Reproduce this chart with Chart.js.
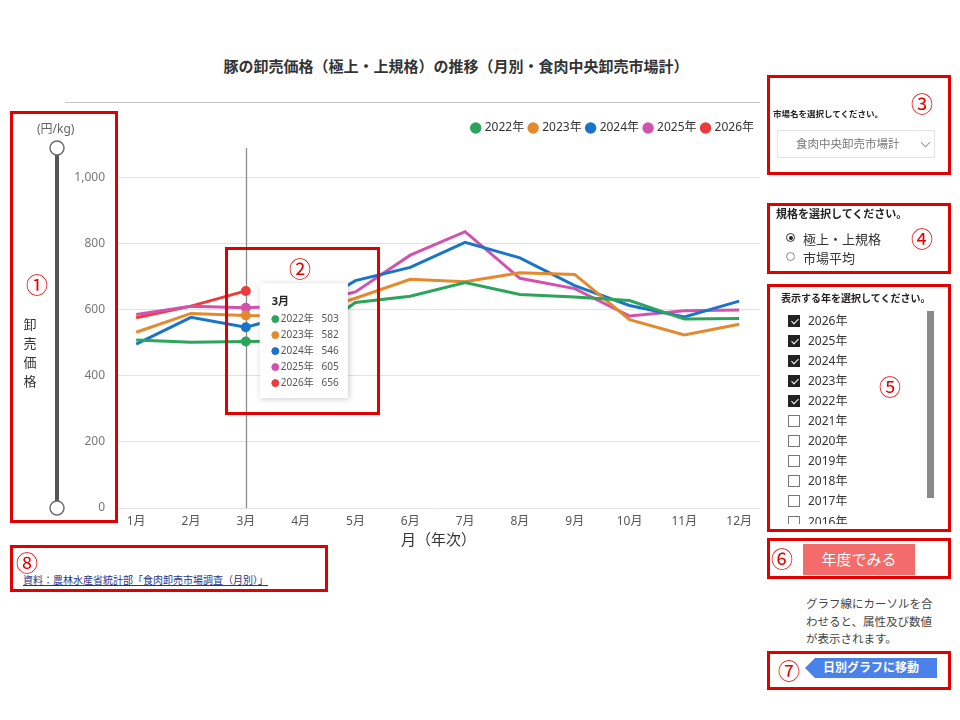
<!DOCTYPE html>
<html lang="ja">
<head>
<meta charset="utf-8">
<script src="https://cdn.jsdelivr.net/npm/chart.js@4.4.1/dist/chart.umd.min.js"></script>
<style>
  body { margin: 0; width: 960px; height: 720px; position: relative; overflow: hidden; background: #fff;
         font-family: 'Noto Sans', 'Noto Sans CJK JP', sans-serif; color: #333; }
  .abs { position: absolute; }
  #title { left: 0; width: 912px; top: 55px; text-align: center; font-size: 15px; font-weight: bold; color: #333; }
  #sep { left: 65px; top: 102px; width: 695px; height: 1px; background: #c8c8c8; }
  #chartBox { left: 0; top: 100px; width: 775px; height: 456px; }
  #unit { left: 37px; top: 119px; font-size: 12px; color: #666; }
  #ytitle { left: 23px; top: 315px; width: 14px; font-size: 13px; line-height: 19px; text-align: center; }
  .redbox { position: absolute; border: 3px solid #e00000; box-sizing: border-box; }
  .num { position: absolute; color: #e00000; font-size: 22px; line-height: 22px; transform: translate(-50%, -50%); }
  .lbl { font-weight: bold; color: #222; white-space: nowrap; }
  #dropdown { left: 777px; top: 130px; width: 158px; height: 28px; border: 1px solid #e4e4e4; box-sizing: border-box;
              font-size: 11.5px; color: #777; line-height: 26px; }
  #dropdown span { position: absolute; left: 18px; white-space: nowrap; }
  #chev { position: absolute; left: 144px; top: 8px; width: 6px; height: 6px; border-right: 1px solid #999;
          border-bottom: 1px solid #999; transform: rotate(45deg); }
  .radio { position: absolute; width: 9px; height: 9px; border: 1px solid #888; border-radius: 50%; box-sizing: border-box; }
  .radio.on { border-color: #333; }
  .radio.on::after { content: ''; position: absolute; left: 1.5px; top: 1.5px; width: 4px; height: 4px; border-radius: 50%; background: #222; }
  .rtext { position: absolute; font-size: 13px; color: #333; white-space: nowrap; }
  #yearList { left: 780px; top: 308px; width: 140px; height: 216px; overflow: hidden; }
  .row { position: absolute; left: 0; width: 130px; height: 20px; font-size: 12px; line-height: 20px; color: #333; }
  .cb { position: absolute; left: 8px; top: 4px; width: 12px; height: 12px; border: 1px solid #777; box-sizing: border-box; background: #fff; }
  .cb.on { background: #222; border-color: #222; }
  .cb.on::after { content: ''; position: absolute; left: 3.5px; top: 1px; width: 3px; height: 6px; border-right: 1.3px solid #fff;
                  border-bottom: 1.3px solid #fff; transform: rotate(45deg); }
  .row span { position: absolute; left: 28px; white-space: nowrap; }
  #scroll { left: 927px; top: 311px; width: 7px; height: 187px; background: #8a8a8a; }
  #btn { left: 803px; top: 544px; width: 112px; height: 31px; background: #f36b6b; color: #fff; font-size: 15px;
         line-height: 31px; text-align: center; }
  #note { left: 806px; top: 595px; font-size: 11.5px; line-height: 17.5px; color: #444; white-space: nowrap; }
  #tag { left: 805px; top: 658px; width: 132px; height: 20px; background: #4a82ea; color: #fff; font-size: 12px; font-weight: bold;
         line-height: 20px; text-align: center; clip-path: polygon(10px 0, 100% 0, 100% 100%, 10px 100%, 0 50%); }
  #src { left: 23px; top: 572px; font-size: 10px; color: #27348b; text-decoration: underline; white-space: nowrap; }
</style>
</head>
<body>
<div id="title" class="abs">豚の卸売価格（極上・上規格）の推移（月別・食肉中央卸売市場計）</div>
<div id="sep" class="abs"></div>
<div id="chartBox" class="abs"><canvas id="chart_1"></canvas></div>
<div id="unit" class="abs">(円/kg)</div>
<div id="ytitle" class="abs">卸<br>売<br>価<br>格</div>

<!-- 右側の操作パネル -->
<div class="abs lbl" style="left:773px; top:107px; font-size:8.5px;">市場名を選択してください。</div>
<div id="dropdown" class="abs"><span>食肉中央卸売市場計</span><div id="chev"></div></div>

<div class="abs lbl" style="left:776px; top:205px; font-size:11px;">規格を選択してください。</div>
<div class="radio on" style="left:786px; top:233px;"></div>
<div class="rtext" style="left:803px; top:229px;">極上・上規格</div>
<div class="radio" style="left:786px; top:252px;"></div>
<div class="rtext" style="left:803px; top:248px;">市場平均</div>

<div class="abs lbl" style="left:781px; top:290px; font-size:10px;">表示する年を選択してください。</div>
<div id="yearList" class="abs"></div>
<div id="scroll" class="abs"></div>

<div id="btn" class="abs">年度でみる</div>
<div id="note" class="abs">グラフ線にカーソルを合<br>わせると、属性及び数値<br>が表示されます。</div>
<div id="tag" class="abs">日別グラフに移動</div>
<div id="src" class="abs">資料：農林水産省統計部「食肉卸売市場調査（月別）」</div>

<!-- 注釈の赤枠 -->
<div class="redbox" style="left:10px; top:111px; width:108px; height:412px;"></div>
<div class="redbox" style="left:225px; top:247px; width:155px; height:168px;"></div>
<div class="redbox" style="left:767px; top:75px; width:184px; height:100px;"></div>
<div class="redbox" style="left:767px; top:203px; width:184px; height:71px;"></div>
<div class="redbox" style="left:767px; top:284px; width:184px; height:248px;"></div>
<div class="redbox" style="left:767px; top:538px; width:184px; height:41px;"></div>
<div class="redbox" style="left:767px; top:651px; width:184px; height:39px;"></div>
<div class="redbox" style="left:10px; top:545px; width:318px; height:47px;"></div>
<div class="num" style="left:37px; top:284px;">①</div>
<div class="num" style="left:300px; top:268px;">②</div>
<div class="num" style="left:922px; top:103px;">③</div>
<div class="num" style="left:922px; top:238px;">④</div>
<div class="num" style="left:890px; top:386px;">⑤</div>
<div class="num" style="left:782px; top:558px;">⑥</div>
<div class="num" style="left:789px; top:670px;">⑦</div>
<div class="num" style="left:27px; top:562px;">⑧</div>

<script>
// データ
const months = ['1月', '2月', '3月', '4月', '5月', '6月', '7月', '8月', '9月', '10月', '11月', '12月'];
const yearLabels = ['2022年', '2023年', '2024年', '2025年', '2026年'];
const price2022 = [508, 501, 503, 505, 621, 640, 681, 645, 638, 627, 571, 573];
const price2023 = [531, 588, 582, 580, 634, 691, 684, 711, 706, 569, 523, 555];
const price2024 = [495, 576, 546, 590, 687, 727, 803, 756, 672, 612, 577, 625];
const price2025 = [585, 610, 605, 612, 653, 764, 835, 694, 663, 580, 596, 598];
const price2026 = [575, 610, 656];
const yTicks = [0, 200, 400, 600, 800, 1000];
const listYears = ['2026年', '2025年', '2024年', '2023年', '2022年', '2021年', '2020年', '2019年', '2018年', '2017年', '2016年'];
const checkedYears = ['2026年', '2025年', '2024年', '2023年', '2022年'];
const hoverMonth = 2; // 3月

const lineColors = ['#2ca45c', '#e5892d', '#1a74c8', '#d153ae', '#ec3b3d'];
const seriesList = [price2022, price2023, price2024, price2025, price2026];

// 年のチェックボックス一覧
const yearList = document.getElementById('yearList');
listYears.forEach(function (y, i) {
    const row = document.createElement('div');
    row.className = 'row';
    row.style.top = (i * 20.1 + 2.5) + 'px';
    const on = checkedYears.indexOf(y) >= 0 ? ' on' : '';
    row.innerHTML = '<div class="cb' + on + '"></div><span>' + y + '</span>';
    yearList.appendChild(row);
});

Chart.defaults.font.family = "'Noto Sans', 'Noto Sans CJK JP', sans-serif";

// ツールチップを点の右上に出す
Chart.Tooltip.positioners.besidePoint = function (items) {
    if (!items.length) return false;
    const x = items[0].element.x;
    const top = Math.min.apply(null, items.map(function (it) { return it.element.y; }));
    return { x: x + 14, y: top - 8 };
};

const hoverLine = {
    id: 'hoverLine',
    beforeDatasetsDraw(chart) {
        const act = chart.getActiveElements();
        if (!act.length) return;
        const ctx = chart.ctx;
        const x = Math.round(act[0].element.x) + 0.5;
        ctx.save();
        ctx.strokeStyle = '#8c8c8c';
        ctx.lineWidth = 1.3;
        ctx.beginPath();
        ctx.moveTo(x, chart.chartArea.top + 4);
        ctx.lineTo(x, chart.chartArea.bottom);
        ctx.stroke();
        ctx.restore();
    }
};

const rangeSlider = {
    id: 'rangeSlider',
    afterDraw(chart) {
        const ctx = chart.ctx;
        const sx = 57;
        const top = chart.chartArea.top + 4;
        const bottom = chart.scales.y.getPixelForValue(0);
        ctx.save();
        ctx.strokeStyle = '#555';
        ctx.lineWidth = 4;
        ctx.beginPath();
        ctx.moveTo(sx, top);
        ctx.lineTo(sx, bottom);
        ctx.stroke();
        [top, bottom].forEach(function (cy) {
            ctx.beginPath();
            ctx.arc(sx, cy, 7, 0, Math.PI * 2);
            ctx.fillStyle = '#fff';
            ctx.fill();
            ctx.lineWidth = 1.5;
            ctx.strokeStyle = '#6e6e6e';
            ctx.stroke();
        });
        ctx.restore();
    }
};

const tooltipShadow = {
    id: 'tooltipShadow',
    beforeTooltipDraw(chart, args) {
        const tt = args.tooltip;
        if (!tt.opacity) return;
        const ctx = chart.ctx;
        ctx.save();
        ctx.shadowColor = 'rgba(0,0,0,0.22)';
        ctx.shadowBlur = 6;
        ctx.shadowOffsetX = 1;
        ctx.shadowOffsetY = 1;
        ctx.fillStyle = '#fff';
        ctx.fillRect(tt.x, tt.y, tt.width, tt.height);
        ctx.restore();
    }
};

const datasets = seriesList.map(function (vals, i) {
    return {
        label: yearLabels[i],
        data: vals.map(function (v, j) { return { x: j + 1, y: v }; }),
        borderColor: lineColors[i],
        backgroundColor: lineColors[i],
        borderWidth: 3,
        tension: 0,
        pointRadius: 0,
        pointHoverRadius: 5,
        pointHoverBorderWidth: 0,
        pointHoverBackgroundColor: lineColors[i],
        pointHoverBorderColor: lineColors[i]
    };
});

const ctx1 = document.getElementById('chart_1').getContext('2d');
const chart1 = new Chart(ctx1, {
    type: 'line',
    data: { datasets: datasets },
    plugins: [hoverLine, tooltipShadow, rangeSlider],
    options: {
        responsive: true,
        maintainAspectRatio: false,
        animation: false,
        events: [],
        layout: { padding: { left: 72, right: 15, top: 16, bottom: 2 } },
        scales: {
            x: {
                type: 'linear',
                min: 0.65,
                max: 12.38,
                grid: { display: false, drawTicks: false },
                border: { display: false },
                afterBuildTicks: function (scale) {
                    scale.ticks = months.map(function (m, i) { return { value: i + 1 }; });
                },
                afterFit: function (scale) { scale.height = 46; },
                ticks: {
                    color: '#555',
                    font: { size: 12 },
                    padding: 6,
                    autoSkip: false,
                    maxRotation: 0,
                    callback: function (v) { return months[v - 1]; }
                },
                title: { display: true, text: '月（年次）', color: '#333', font: { size: 15 } }
            },
            y: {
                min: 0,
                max: 1100,
                grid: { color: '#e2e2e2', drawTicks: false },
                border: { display: false },
                afterBuildTicks: function (scale) {
                    scale.ticks = yTicks.map(function (v) { return { value: v }; });
                },
                afterFit: function (scale) { scale.width = 45; },
                ticks: {
                    color: '#777',
                    font: { size: 12 },
                    padding: 12,
                    callback: function (v) { return v.toLocaleString('en-US'); }
                }
            }
        },
        plugins: {
            legend: {
                position: 'top',
                align: 'end',
                labels: {
                    usePointStyle: true,
                    pointStyle: 'circle',
                    boxWidth: 6,
                    boxHeight: 6,
                    padding: 6,
                    color: '#333',
                    font: { size: 12 }
                }
            },
            tooltip: {
                mode: 'index',
                intersect: false,
                position: 'besidePoint',
                xAlign: 'left',
                yAlign: 'top',
                caretSize: 0,
                caretPadding: 0,
                cornerRadius: 0,
                backgroundColor: '#fff',
                titleColor: '#222',
                bodyColor: '#555',
                titleFont: { size: 11, weight: 'bold' },
                bodyFont: { size: 10 },
                titleMarginBottom: 5,
                bodySpacing: 4,
                padding: { top: 12, bottom: 9, left: 12, right: 9 },
                usePointStyle: true,
                boxWidth: 7,
                boxHeight: 7,
                callbacks: {
                    title: function (items) { return months[items[0].dataIndex]; },
                    label: function (c) { return c.dataset.label + '   ' + c.parsed.y; },
                    labelPointStyle: function () { return { pointStyle: 'circle', rotation: 0 }; },
                    labelColor: function (c) {
                        return { borderColor: c.dataset.borderColor, backgroundColor: c.dataset.borderColor };
                    }
                }
            }
        }
    }
});

// 3月にカーソルを合わせた状態
const activeItems = datasets.map(function (d, i) { return { datasetIndex: i, index: hoverMonth }; });
chart1.setActiveElements(activeItems);
chart1.tooltip.setActiveElements(activeItems, { x: 0, y: 0 });
chart1.update();
</script>
</body>
</html>
